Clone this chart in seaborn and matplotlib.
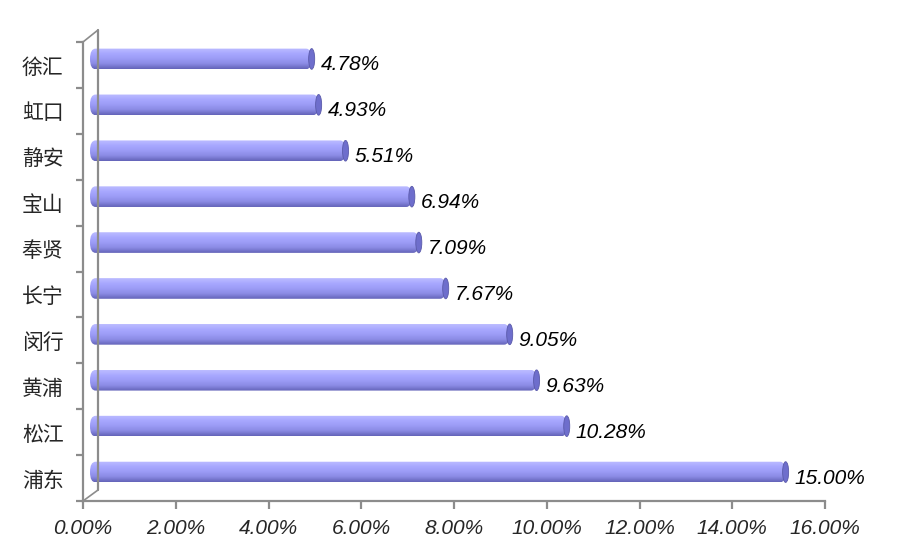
import numpy as np
import matplotlib
matplotlib.use("Agg")
import matplotlib.pyplot as plt
import matplotlib.transforms as mtransforms
from matplotlib.patches import Ellipse, FancyBboxPatch
from matplotlib.colors import LinearSegmentedColormap
import seaborn as sns
import pandas as pd

districts = ["徐汇", "虹口", "静安", "宝山", "奉贤", "长宁", "闵行", "黄浦", "松江", "浦东"]
shares = [4.78, 4.93, 5.51, 6.94, 7.09, 7.67, 9.05, 9.63, 10.28, 15.00]
x_ticks = [0, 2, 4, 6, 8, 10, 12, 14, 16]

sns.set_style("white")
plt.rcParams["font.family"] = ["Noto Sans CJK SC", "DejaVu Sans"]

df = pd.DataFrame({"district": districts, "share": shares})

W, H = 912, 557
fig = plt.figure(figsize=(W / 100, H / 100), dpi=100)
ax = fig.add_axes([83 / W, 1 - 501 / H, (825 - 83) / W, (501 - 42) / H])

sns.barplot(data=df, y="district", x="share", orient="h", ax=ax,
            width=0.45, color="#9999ff", edgecolor="none")
ax.set_xlim(0, 16)
ax.set_ylim(len(districts) - 0.5, -0.5)

# shift bars half the 3d depth (to the back wall)
shift = mtransforms.ScaledTranslation(7 / 100, 6 / 100, fig.dpi_scale_trans)
cyl = LinearSegmentedColormap.from_list(
    "cyl", ["#bcbcff", "#a8a8ff", "#9c9cf6", "#8a8ae4", "#6464b8"])
grad = np.linspace(0, 1, 64).reshape(-1, 1)
for p in ax.patches:
    x0, y0 = p.get_x(), p.get_y()
    w, h = p.get_width(), p.get_height()
    p.set_visible(False)
    body = FancyBboxPatch((x0, y0), w, h, boxstyle="round,pad=0,rounding_size=0.12",
                          mutation_aspect=h / 0.12 * 0.5,
                          transform=ax.transData + shift, facecolor="none",
                          edgecolor="none")
    ax.add_patch(body)
    im = ax.imshow(grad, cmap=cyl, aspect="auto", extent=(x0, x0 + w, y0 + h, y0),
                   transform=ax.transData + shift, zorder=2, interpolation="bilinear")
    im.set_clip_path(body)
    cap = Ellipse((x0 + w, y0 + h / 2), 0.13, h, transform=ax.transData + shift,
                  facecolor="#6e6ecc", edgecolor="#5a5aaa", lw=0.6, zorder=3)
    ax.add_patch(cap)
    ax.annotate(f"{w:.2f}%", (x0 + w, y0 + h / 2), xytext=(16, 0),
                textcoords="offset pixels", va="center", ha="left",
                family="Liberation Sans", style="italic", fontsize=15, color="black")

ax.set_xlim(0, 16)
ax.set_ylim(len(districts) - 0.5, -0.5)

# axes and 3d wall
for s in ax.spines.values():
    s.set_visible(False)
gray = "#8c8c8c"
ax.spines["left"].set_visible(True)
ax.spines["bottom"].set_visible(True)
ax.spines["left"].set_color(gray)
ax.spines["bottom"].set_color(gray)
ax.spines["left"].set_linewidth(1.6)
ax.spines["bottom"].set_linewidth(1.6)
fig.add_artist(plt.Line2D([98 / W, 98 / W], [1 - 30 / H, 1 - 490 / H], color=gray, lw=1.6))
fig.add_artist(plt.Line2D([83 / W, 98 / W], [1 - 42 / H, 1 - 30 / H], color=gray, lw=1.2))
fig.add_artist(plt.Line2D([83 / W, 98 / W], [1 - 501 / H, 1 - 490 / H], color=gray, lw=1.2))

ax.set_yticks(np.arange(len(districts) + 1) - 0.5, minor=True)
ax.set_yticks(np.arange(len(districts)))
ax.set_yticklabels(districts, fontsize=15)
ax.tick_params(axis="y", which="major", length=0, pad=14)
ax.tick_params(axis="y", which="minor", length=5, width=1.6, color=gray, left=True)
ax.set_xticks(x_ticks)
ax.set_xticklabels([f"{t:.2f}%" for t in x_ticks], family="Liberation Sans",
                   style="italic", fontsize=15)
ax.tick_params(axis="x", length=6, width=1.6, color=gray, bottom=True, pad=7)
ax.set_xlabel("")
ax.set_ylabel("")
ax.grid(False)

fig.savefig("out.png", dpi=100)
